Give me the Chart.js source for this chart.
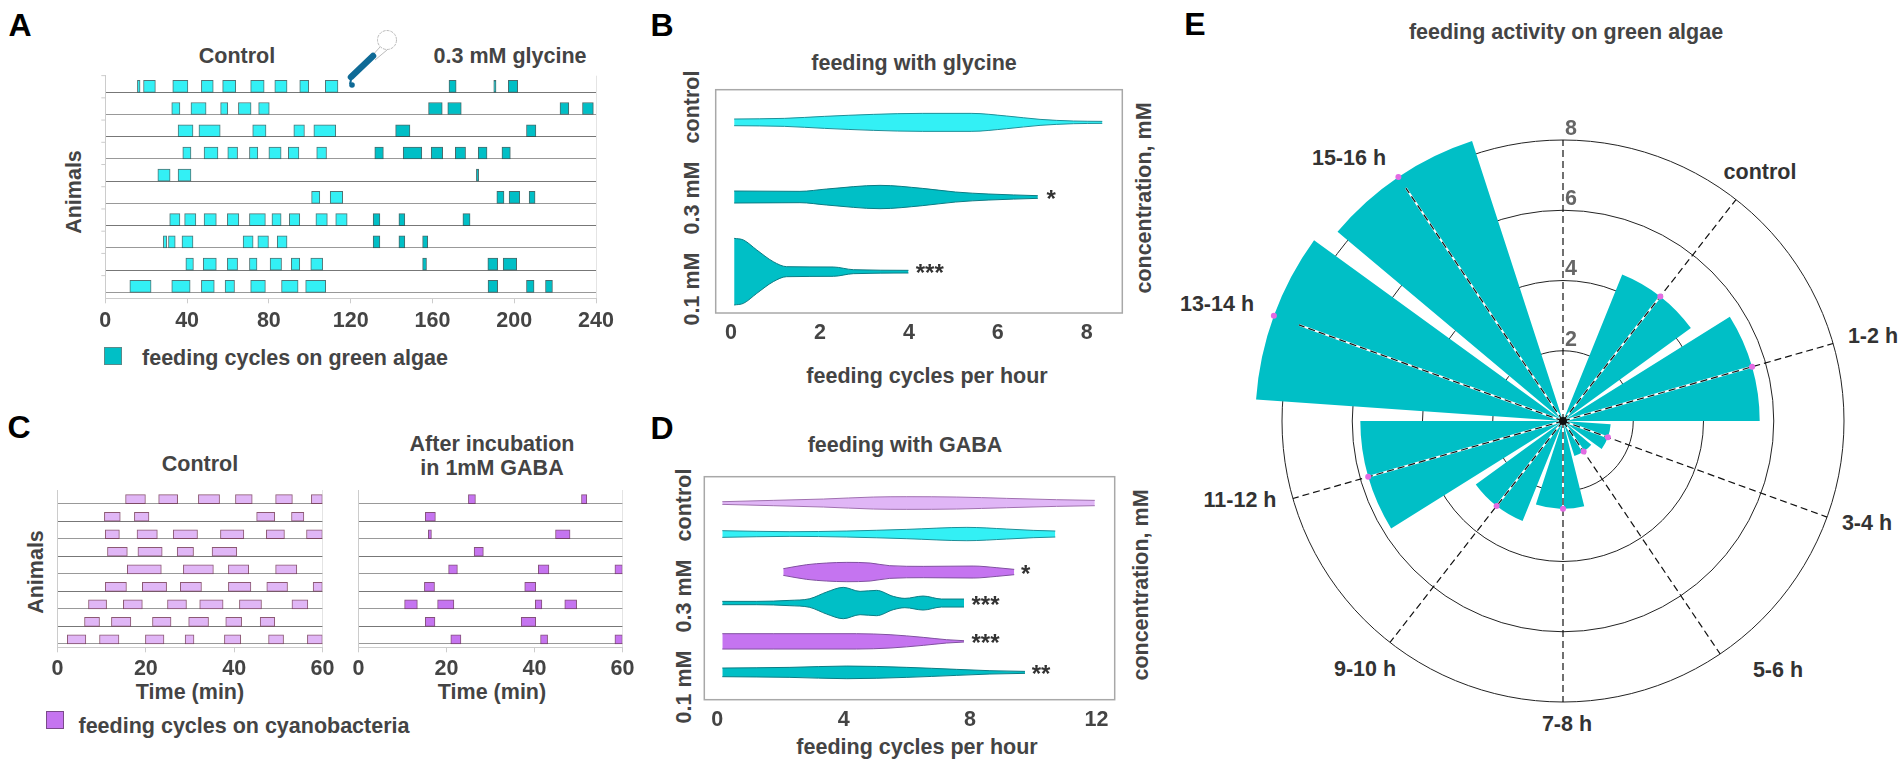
<!DOCTYPE html>
<html>
<head>
<meta charset="utf-8">
<title>feeding cycles</title>
<script src="https://cdn.jsdelivr.net/npm/chart.js@4/dist/chart.umd.js"></script>
<style>
  html, body { margin: 0; padding: 0; background: #fff; }
  #page { position: relative; width: 1904px; height: 762px; overflow: hidden; }
  canvas { position: absolute; }
  .t { position: absolute; transform: translate(-50%, -50%); white-space: nowrap;
       font: bold 21.5px "Liberation Sans", Arial, sans-serif; color: #444; line-height: 1; }
  .v { transform: translate(-50%, -50%) rotate(-90deg); }
  .letter { font-size: 32px; color: #000; }
  .k { color: #333; }
  .sq { position: absolute; box-sizing: border-box; }
</style>
</head>
<body>
<div id="page">
  <div class="t letter" style="left:20px;top:25px">A</div>
  <div class="t letter" style="left:662px;top:25px">B</div>
  <div class="t letter" style="left:19px;top:427px">C</div>
  <div class="t letter" style="left:662px;top:428px">D</div>
  <div class="t letter" style="left:1195px;top:24px">E</div>

  <div class="t" style="left:237px;top:57px">Control</div>
  <div class="t" style="left:510px;top:57px">0.3 mM glycine</div>
  <div class="t v" style="left:75px;top:192px">Animals</div>
  <div class="sq" style="left:104px;top:347px;width:18px;height:18px;background:#00BFC6;border:1px solid #5a8a8a"></div>
  <div class="t" style="left:295px;top:359px">feeding cycles on green algae</div>

  <div class="t" style="left:914px;top:64px">feeding with glycine</div>
  <div class="t" style="left:927px;top:377px">feeding cycles per hour</div>
  <div class="t v" style="left:693px;top:107px">control</div>
  <div class="t v" style="left:693px;top:198px">0.3 mM</div>
  <div class="t v" style="left:693px;top:289px">0.1 mM</div>
  <div class="t v" style="left:1145px;top:198px">concentration, mM</div>

  <div class="t" style="left:200px;top:465px">Control</div>
  <div class="t" style="left:492px;top:445px">After incubation</div>
  <div class="t" style="left:492px;top:469px">in 1mM GABA</div>
  <div class="t v" style="left:37px;top:572px">Animals</div>
  <div class="t" style="left:190px;top:693px">Time (min)</div>
  <div class="t" style="left:492px;top:693px">Time (min)</div>
  <div class="sq" style="left:46px;top:711px;width:18px;height:18px;background:#C574F0;border:1px solid #7a4a8a"></div>
  <div class="t" style="left:244px;top:727px">feeding cycles on cyanobacteria</div>

  <div class="t" style="left:905px;top:446px">feeding with GABA</div>
  <div class="t" style="left:917px;top:748px">feeding cycles per hour</div>
  <div class="t v" style="left:685px;top:505px">control</div>
  <div class="t v" style="left:685px;top:596px">0.3 mM</div>
  <div class="t v" style="left:685px;top:687px">0.1 mM</div>
  <div class="t v" style="left:1142px;top:585px">concentration, mM</div>

  <div class="t" style="left:1566px;top:33px">feeding activity on green algae</div>
  <div class="t k" style="left:1760px;top:173px">control</div>
  <div class="t k" style="left:1873px;top:337px">1-2 h</div>
  <div class="t k" style="left:1867px;top:524px">3-4 h</div>
  <div class="t k" style="left:1778px;top:671px">5-6 h</div>
  <div class="t k" style="left:1567px;top:725px">7-8 h</div>
  <div class="t k" style="left:1365px;top:670px">9-10 h</div>
  <div class="t k" style="left:1240px;top:501px">11-12 h</div>
  <div class="t k" style="left:1217px;top:305px">13-14 h</div>
  <div class="t k" style="left:1349px;top:159px">15-16 h</div>

  <svg style="position:absolute;left:340px;top:20px" width="70" height="75" viewBox="0 0 70 75">
    <circle cx="47" cy="20" r="9.5" fill="#fff" stroke="#bbb" stroke-width="1" stroke-dasharray="3 1"/>
    <path d="M40 27 L31 37 M47 30 L35 40" stroke="#bbb" stroke-width="1" fill="none"/>
    <path d="M33 36 L11 57" stroke="#0F6A96" stroke-width="6.5" stroke-linecap="round"/>
    <path d="M11 60 L10 64" stroke="#0F6A96" stroke-width="2"/>
    <circle cx="12" cy="65" r="2.8" fill="#0F6A96"/>
  </svg>
</div>

<script>
// Panel A, feeding cycle [start, end] per animal, minutes
const aControl = [
  [[15.7,17],[18.7,24.5],[33,40.4],[47,52.8],[57.4,63.8],[71.1,77.7],[82.9,88.9],[95.1,99.5],[107.6,113.8]],
  [[32.5,36.5],[41.9,49.3],[56.4,59.9],[65.1,71.3],[75,80.2]],
  [[35.6,42.9],[45.8,56.2],[72.1,78.6],[92.2,97.4],[102,112.7]],
  [[37.9,41.9],[48.3,55.1],[59.9,64.7],[70.5,74.6],[80,86],[89.5,94.7],[103.4,108.2]],
  [[25.7,31.7],[35.6,41.9]],
  [[100.9,104.9],[110,116.1]],
  [[31.5,36.5],[38.8,44.3],[48.3,54.3],[59.7,65.3],[70.5,78.3],[81.5,86],[90,95.1],[103,108.6],[112.7,118.3]],
  [[28.4,30],[30.9,34.2],[37.5,42.9],[67.4,72.3],[74.6,79.8],[84.1,88.9]],
  [[39.4,43.1],[47.9,54.3],[59.7,64.7],[70.5,74.2],[80.6,86.2],[91,95.1],[100.5,106.3]],
  [[12,22.4],[32.5,41.5],[47,53.3],[58.6,63.2],[71.1,78.3],[86.2,94.3],[98,107.8]]
];
const aGlycine = [
  [[168.1,171.6],[190,191.1],[197.1,201.7]],
  [[158.1,164.8],[167.5,174.1],[222.4,226.7],[233.4,238.7]],
  [[142,149],[206,210.6]],
  [[131.8,136],[145.7,154.8],[159.4,165],[171.2,176.2],[182.4,186.7],[194,198.1]],
  [[181.5,182.6]],
  [[191.5,195],[197.5,202.7],[207.3,210.2]],
  [[131,134.3],[143.6,146.5],[174.9,178.4]],
  [[131,134.3],[143.6,146.5],[155.2,157.7]],
  [[155.2,157.1],[187.1,191.9],[194.6,201.2]],
  [[187.2,191.9],[206,209.7],[215.3,218.7]]
];

// Panel C, same thing for cyanobacteria
const cControl = [
  [[15.4,19.9],[22.9,27.2],[31.9,36.7],[40.3,44.1],[49.4,53.2],[57.5,60]],
  [[10.6,14.2],[17.4,20.7],[45.1,49.2],[53,55.8]],
  [[10.8,14],[18,22.6],[26.2,31.7],[36.9,42.2],[47.3,51.4],[56.4,60]],
  [[11.3,15.8],[18.2,23.7],[27.1,30.8],[35,40.6]],
  [[15.8,23.5],[28.5,35.3],[38.7,43.3],[49.4,54.2]],
  [[10.8,15.6],[19.2,24.7],[27.8,32.6],[38.7,43.8],[47.4,52.1],[57.9,60]],
  [[7,11.1],[14.9,19.2],[24.9,29.2],[32.2,37.5],[41.2,46.2],[53.1,56.7]],
  [[6.1,9.5],[12.2,16.6],[21.5,25.7],[29.7,34.2],[38.1,41.7],[45.9,49.2]],
  [[2.2,6.4],[9.5,13.9],[19.9,24.1],[28.9,30.9],[37.8,41.5],[47.8,51.2],[56.6,60]]
];
const cGaba = [
  [[25,26.6],[50.7,51.9]],
  [[15.2,17.5]],
  [[15.9,16.6],[44.8,48.1]],
  [[26.3,28.4]],
  [[20.5,22.5],[40.9,43.3],[58.3,60]],
  [[15,17.3],[37.8,40.3]],
  [[10.5,13.4],[18,21.7],[40.2,41.7],[46.9,49.6]],
  [[15.2,17.4],[37,40.3]],
  [[21,23.3],[41.4,43],[58.3,60]]
];

// Panel B violins: x = cycles per hour, w = half width
const bControlX = [0.07,1.2,2.1,3.2,4.3,5.4,6.2,6.95,7.7,8.35];
const bControlW = [0.10,0.12,0.18,0.24,0.27,0.27,0.19,0.09,0.04,0.03];
const bMid03X = [0.07,1.55,2.15,3.35,4.3,5.05,5.8,6.9];
const bMid03W = [0.18,0.17,0.24,0.35,0.26,0.15,0.09,0.04];
const bLow01X = [0.07,0.28,0.58,0.95,1.25,2.3,2.75,3.99];
const bLow01W = [1.0,0.95,0.65,0.30,0.15,0.14,0.06,0.04];

// Panel D violins
const dCtrlPurpleX = [0.16,1.77,3.36,4.94,6,7.58,9.16,10.74,11.95];
const dCtrlPurpleW = [0.04,0.08,0.12,0.18,0.19,0.18,0.14,0.10,0.08];
const dCtrlTealX = [0.16,2.3,4.1,6,7.9,9.16,10,10.7];
const dCtrlTealW = [0.10,0.07,0.09,0.14,0.20,0.15,0.11,0.09];
const d03PurpleX = [2.09,2.83,3.46,4.1,4.84,5.46,6.52,8.1,8.85,9.4];
const d03PurpleW = [0.10,0.22,0.27,0.29,0.27,0.19,0.17,0.18,0.13,0.08];
const d03TealX = [0.16,1.25,2.3,2.93,3.46,3.99,4.52,5.04,5.57,5.94,6.52,7.1,7.81];
const d03TealW = [0.05,0.05,0.08,0.13,0.33,0.47,0.35,0.38,0.20,0.14,0.21,0.12,0.12];
const d01PurpleX = [0.16,1.77,4.41,5.47,6.52,7.26,7.81];
const d01PurpleW = [0.23,0.23,0.23,0.20,0.12,0.05,0.02];
const d01TealX = [0.16,2.3,4.1,6,7.58,8.63,9.74];
const d01TealW = [0.13,0.15,0.19,0.15,0.09,0.05,0.03];

// Panel E
const polarLabels = ['', 'control', '1-2 h', '3-4 h', '5-6 h', '7-8 h', '9-10 h', '11-12 h', '13-14 h', '15-16 h'];
const polarValues = [0, 4.5, 5.6, 1.36, 1.05, 2.5, 3.07, 5.77, 8.76, 8.38];

const CYAN = '#33F0F5', TEAL = '#00BFC6', LILAC = '#E0B6F6', PURPLE = '#C574F0';

Chart.defaults.font.family = '"Liberation Sans", Arial, sans-serif';
Chart.defaults.font.size = 21.5;
Chart.defaults.font.weight = 'bold';
Chart.defaults.color = '#444';
Chart.defaults.animation = false;
Chart.defaults.responsive = false;
Chart.defaults.plugins.legend.display = false;
Chart.defaults.plugins.tooltip.enabled = false;

const page = document.getElementById('page');
const XAXIS_H = 48;

// canvas around a plot rectangle, leaves room for tick labels
function mount(plot) {
  const cv = document.createElement('canvas');
  const left = Math.floor(plot.l) - 40, top = Math.floor(plot.t) - 12;
  cv.width = Math.ceil(plot.r - plot.l) + 80;
  cv.height = Math.ceil(plot.b - plot.t) + 12 + 50;
  cv.style.left = left + 'px';
  cv.style.top = top + 'px';
  page.appendChild(cv);
  const padding = {
    left: plot.l - left,
    top: plot.t - top,
    right: left + cv.width - plot.r,
    bottom: top + cv.height - plot.b - XAXIS_H
  };
  return { ctx: cv.getContext('2d'), padding };
}

// short marks left of the axis, one row line above each baseline
const rowStubs = {
  id: 'rowStubs',
  afterDraw(chart) {
    const { ctx, chartArea: a, scales: { y } } = chart;
    ctx.save();
    ctx.strokeStyle = '#ccc';
    y.ticks.forEach(t => {
      const py = y.getPixelForValue(t.value - 0.75);
      ctx.beginPath();
      ctx.moveTo(a.left - 4, py);
      ctx.lineTo(a.left, py);
      ctx.stroke();
    });
    ctx.restore();
  }
};

function raster(plot, cfg) {
  const { ctx, padding } = mount(plot);
  const points = [];
  // bars sit on their row line, so move them up half a bar
  cfg.rowsA.forEach((row, i) => row.forEach(b => points.push({ x: b, y: i + 1 - cfg.barLift, second: false })));
  cfg.rowsB.forEach((row, i) => row.forEach(b => points.push({ x: b, y: i + 1 - cfg.barLift, second: true })));
  new Chart(ctx, {
    type: 'bar',
    data: { datasets: [{
      data: points,
      barThickness: cfg.barH,
      borderSkipped: false,
      borderWidth: 1,
      backgroundColor: c => c.raw.second ? cfg.colB : cfg.colA,
      borderColor: c => c.raw.second ? cfg.edgeB : cfg.edgeA
    }] },
    options: {
      indexAxis: 'y',
      layout: { padding },
      scales: {
        x: {
          type: 'linear', min: 0, max: cfg.xMax,
          afterFit: s => { s.height = XAXIS_H; },
          border: { color: '#ccc' },
          grid: {
            tickLength: 5,
            tickColor: '#ccc',
            color: c => c.tick && c.tick.value === cfg.xMax ? '#e4e4e4' : 'rgba(0,0,0,0)'
          },
          ticks: { stepSize: cfg.xStep, padding: cfg.tickPad, maxRotation: 0, autoSkip: false }
        },
        y: {
          type: 'linear', reverse: true, min: cfg.yMin, max: cfg.yMax, offset: false,
          afterFit: s => { s.width = 0; },
          border: { color: '#ccc' },
          grid: { offset: false, color: c => c.index % 2 ? '#777' : '#999', tickLength: 0 },
          ticks: { display: false, stepSize: 1, includeBounds: false }
        }
      }
    },
    plugins: cfg.stubs ? [rowStubs] : []
  });
}

function violin(xs, ws, center, color, edge) {
  const common = { showLine: true, pointRadius: 0, borderColor: edge, borderWidth: 1,
                   cubicInterpolationMode: 'monotone', backgroundColor: color };
  return [
    { ...common, data: xs.map((x, i) => ({ x, y: center + ws[i] })), fill: false },
    { ...common, data: xs.map((x, i) => ({ x, y: center - ws[i] })), fill: '-1' }
  ];
}

const frameAndStars = stars => ({
  id: 'frameAndStars',
  afterDraw(chart) {
    const { ctx, chartArea: a, scales } = chart;
    ctx.save();
    ctx.strokeStyle = '#a8a8a8';
    ctx.lineWidth = 1.5;
    ctx.strokeRect(a.left, a.top, a.right - a.left, a.bottom - a.top);
    ctx.fillStyle = '#333';
    ctx.font = 'bold 24px "Liberation Sans", Arial, sans-serif';
    ctx.textAlign = 'center';
    ctx.textBaseline = 'middle';
    stars.forEach(s => ctx.fillText(s[2], scales.x.getPixelForValue(s[0]), scales.y.getPixelForValue(s[1]) + 3));
    ctx.restore();
  }
});

function violinChart(plot, cfg) {
  const { ctx, padding } = mount(plot);
  new Chart(ctx, {
    type: 'scatter',
    data: { datasets: cfg.datasets },
    options: {
      layout: { padding },
      scales: {
        x: {
          type: 'linear', min: cfg.xMin, max: cfg.xMax,
          afterFit: s => { s.height = XAXIS_H; },
          border: { display: false },
          grid: { display: false, drawTicks: false },
          ticks: { stepSize: cfg.xStep, includeBounds: false, padding: cfg.tickPad, maxRotation: 0, autoSkip: false }
        },
        y: {
          type: 'linear', min: 0, max: cfg.yMax,
          afterFit: s => { s.width = 0; },
          border: { display: false },
          grid: { display: false },
          ticks: { display: false }
        }
      }
    },
    plugins: [frameAndStars(cfg.stars)]
  });
}

// A
raster({ l: 105.3, r: 596, t: 75.7, b: 298.3 }, {
  rowsA: aControl, rowsB: aGlycine, colA: CYAN, colB: TEAL,
  edgeA: 'rgba(50,90,90,0.85)', edgeB: 'rgba(40,80,80,0.85)',
  barH: 12, barLift: 0.27, xMax: 240, xStep: 40, tickPad: 5, yMin: 0.253, yMax: 10.27, stubs: true
});

// C left and right
raster({ l: 57.6, r: 322.4, t: 490, b: 647.3 }, {
  rowsA: cControl, rowsB: [], colA: LILAC, colB: PURPLE,
  edgeA: 'rgba(120,60,90,0.85)', edgeB: 'rgba(110,50,100,0.85)',
  barH: 9, barLift: 0.26, xMax: 60, xStep: 20, tickPad: 4, yMin: 0.216, yMax: 9.19
});
raster({ l: 358.4, r: 622.4, t: 490, b: 647.3 }, {
  rowsA: [], rowsB: cGaba, colA: LILAC, colB: PURPLE,
  edgeA: 'rgba(120,60,90,0.85)', edgeB: 'rgba(110,50,100,0.85)',
  barH: 9, barLift: 0.26, xMax: 60, xStep: 20, tickPad: 4, yMin: 0.216, yMax: 9.19
});

// B
violinChart({ l: 715.7, r: 1122.3, t: 89.7, b: 313 }, {
  xMin: -0.345, xMax: 8.8, xStep: 2, yMax: 6.70, tickPad: 7,
  datasets: [
    ...violin(bControlX, bControlW, 5.72, CYAN, '#1E8F98'),
    ...violin(bMid03X, bMid03W, 3.48, TEAL, '#0B7C84'),
    ...violin(bLow01X, bLow01W, 1.24, TEAL, '#0B7C84')
  ],
  stars: [[7.2, 3.48, '*'], [4.47, 1.24, '***']]
});

// D
violinChart({ l: 704.3, r: 1114.7, t: 476.7, b: 699.7 }, {
  xMin: -0.41, xMax: 12.58, xStep: 4, yMax: 6.69, tickPad: 7,
  datasets: [
    ...violin(dCtrlPurpleX, dCtrlPurpleW, 5.9, LILAC, '#A070B0'),
    ...violin(dCtrlTealX, dCtrlTealW, 4.97, CYAN, '#1E8F98'),
    ...violin(d03PurpleX, d03PurpleW, 3.83, PURPLE, '#8050A0'),
    ...violin(d03TealX, d03TealW, 2.9, TEAL, '#0B7C84'),
    ...violin(d01PurpleX, d01PurpleW, 1.75, PURPLE, '#8050A0'),
    ...violin(d01TealX, d01TealW, 0.82, TEAL, '#0B7C84')
  ],
  stars: [[9.76, 3.83, '*'], [8.49, 2.9, '***'], [8.49, 1.75, '***'], [10.25, 0.82, '**']]
});

// E: every wedge is 32 deg, followed by an empty 4 deg slot
const wedgeSize = 32, wedgeGap = 4, polarSkew = 2;
const polarData = polarValues.flatMap(v => [v, 0]);
const polarAngles = polarValues.flatMap(() => [wedgeSize, wedgeGap]);

const spokes = {
  id: 'spokes',
  afterDatasetsDraw(chart) {
    const { ctx, scales: { r } } = chart;
    const cx = r.xCenter, cy = r.yCenter;
    ctx.save();
    polarValues.forEach((v, i) => {
      const deg = i * 36 + (i % 5 ? polarSkew : 0);
      const a = (deg - 90) * Math.PI / 180;
      const rim = r.getDistanceFromCenterForValue(8);
      const inner = Math.min(r.getDistanceFromCenterForValue(v), rim);
      ctx.setLineDash([]);
      ctx.strokeStyle = '#fff';
      ctx.lineWidth = 2;
      ctx.beginPath();
      ctx.moveTo(cx, cy);
      ctx.lineTo(cx + inner * Math.cos(a), cy + inner * Math.sin(a));
      ctx.stroke();
      ctx.setLineDash([7, 4]);
      ctx.strokeStyle = '#111';
      ctx.lineWidth = 1.2;
      ctx.beginPath();
      ctx.moveTo(cx, cy);
      ctx.lineTo(cx + rim * Math.cos(a), cy + rim * Math.sin(a));
      ctx.stroke();
    });
    ctx.setLineDash([]);
    // markers on the value of each hour
    polarValues.forEach((v, i) => {
      if (!v) return;
      const a = (i * 36 + (i % 5 ? polarSkew : 0) - 90) * Math.PI / 180;
      const d = r.getDistanceFromCenterForValue(v);
      ctx.fillStyle = '#E36BE3';
      ctx.beginPath();
      ctx.arc(cx + d * Math.cos(a), cy + d * Math.sin(a), 3, 0, Math.PI * 2);
      ctx.fill();
    });
    ctx.fillStyle = '#111';
    ctx.beginPath();
    ctx.arc(cx, cy, 4, 0, Math.PI * 2);
    ctx.fill();
    // radial tick labels sit right of the top spoke, above their circle
    ctx.fillStyle = '#666';
    ctx.font = 'bold 21.5px "Liberation Sans", Arial, sans-serif';
    ctx.textAlign = 'center';
    ctx.textBaseline = 'middle';
    r.ticks.forEach(t => {
      if (t.value > 0) ctx.fillText(t.value, cx + 8, cy - r.getDistanceFromCenterForValue(t.value) - 11);
    });
    ctx.restore();
  }
};

(function () {
  const cv = document.createElement('canvas');
  cv.width = 680; cv.height = 680;
  cv.style.left = '1223px';
  cv.style.top = '81px';
  page.appendChild(cv);
  new Chart(cv.getContext('2d'), {
    type: 'polarArea',
    data: {
      labels: polarData.map((v, i) => polarLabels[i / 2] || ''),
      datasets: [{
        data: polarData,
        angle: polarAngles,
        backgroundColor: TEAL,
        borderWidth: 0,
        clip: false
      }]
    },
    options: {
      layout: { padding: 58.5 },
      scales: {
        r: {
          min: 0, max: 8,
          startAngle: -wedgeSize / 2 + polarSkew,
          angleLines: { display: false },
          pointLabels: { display: false },
          grid: { color: '#222', lineWidth: 1 },
          ticks: { display: false, stepSize: 2 }
        }
      }
    },
    plugins: [spokes]
  });
})();
</script>
</body>
</html>
